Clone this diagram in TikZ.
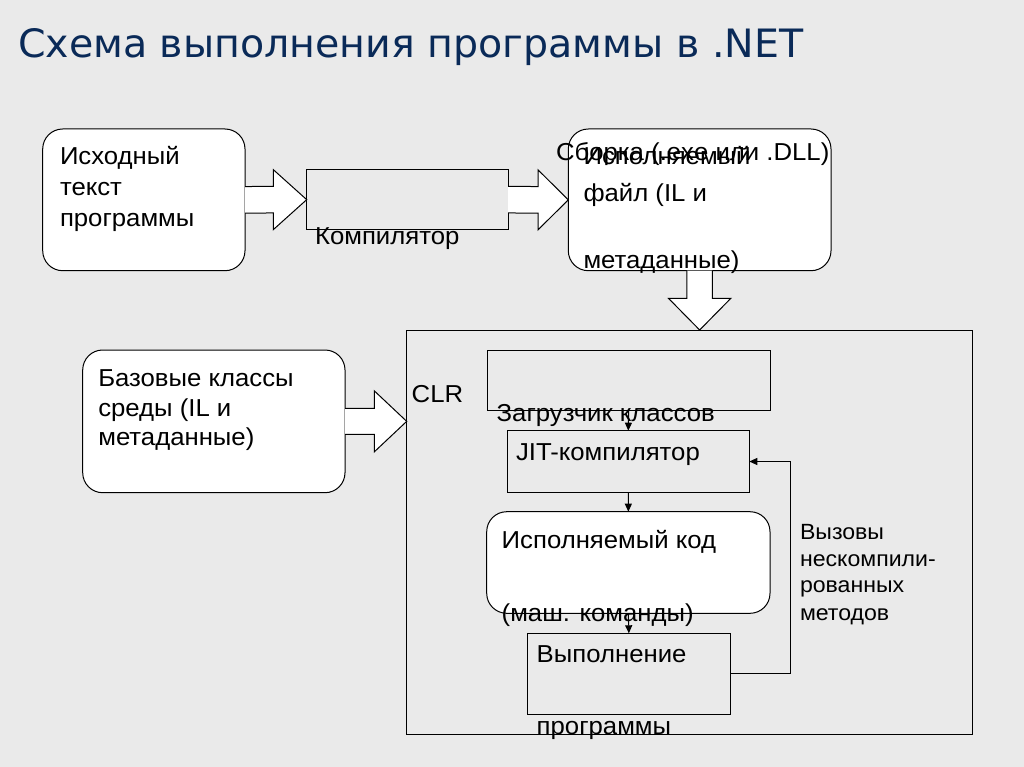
\documentclass[tikz,border=0pt]{standalone}
\usepackage{graphicx}
\usepackage{fontspec}
\setmainfont{Liberation Sans}[FakeStretch=1.05]
\newfontfamily\titlefont{DejaVu Sans}
\usetikzlibrary{arrows.meta,calc}
\definecolor{bg}{RGB}{234,234,234}
\definecolor{titleblue}{RGB}{10,42,88}
\begin{document}
\begin{tikzpicture}[x=1pt,y=-1pt,
  box/.style={draw=black, line width=1pt, inner sep=0pt, outer sep=0pt},
  rbox/.style={box, fill=white, rounded corners=20pt},
  txt/.style={anchor=base west, inner sep=0pt, outer sep=0pt, font=\fontsize{24.5}{28}\selectfont, text=black},
  smalltxt/.style={txt, font=\fontsize{22}{25}\selectfont},
  barrow/.style={fill=white, draw=black, line width=1pt, line join=miter},
  conn/.style={draw=black, line width=1pt, -{Triangle[length=8pt,width=7pt]}}
]
\path[fill=bg] (0,0) rectangle (1024,767);
\useasboundingbox (0,0) rectangle (1024,767);

% title
\node[anchor=base west, inner sep=0pt, text=titleblue] (title) at (18,57.5)
  {\resizebox{785pt}{29pt}{\titlefont\fontsize{40}{48}\selectfont Схема выполнения программы в .NET}};

% CLR frame
\node[box, minimum width=565.6pt, minimum height=404pt] (clr) at (689.5,532) {};

% boxes
\node[rbox, minimum width=202.3pt, minimum height=141.7pt] (src) at (143.85,199.85) {};
\node[box, minimum width=201.3pt, minimum height=60.7pt] (comp) at (407.35,199.65) {};
\node[rbox, minimum width=262.7pt, minimum height=141.7pt] (asm) at (699.65,199.85) {};
\node[rbox, minimum width=262.3pt, minimum height=142.7pt] (base) at (213.85,421.35) {};
\node[box, minimum width=282.7pt, minimum height=60.7pt] (loader) at (628.65,380.35) {};
\node[box, minimum width=242pt, minimum height=61.6pt] (jit) at (628.3,461.5) {};
\node[rbox, minimum width=283.3pt, minimum height=101.6pt] (exec) at (628.35,562.5) {};
\node[box, minimum width=202.3pt, minimum height=80.7pt] (run) at (628.85,673.65) {};

% block arrows
\filldraw[barrow] ($(src.east)+(0,-13.3)$) -- ($(comp.west)+(-33.4,-13.3)$) -- ($(comp.west)+(-33.4,-30)$)
  -- (comp.west) -- ($(comp.west)+(-33.4,30)$) -- ($(comp.west)+(-33.4,13.3)$) -- ($(src.east)+(0,13.3)$);
\filldraw[barrow] ($(comp.east)+(0,-13.3)$) -- ($(asm.west)+(-30.3,-13.3)$) -- ($(asm.west)+(-30.3,-30)$)
  -- (asm.west) -- ($(asm.west)+(-30.3,30)$) -- ($(asm.west)+(-30.3,13.3)$) -- ($(comp.east)+(0,13.3)$);
\coordinate (dtip) at (asm.south |- clr.north);
\filldraw[barrow] ($(asm.south)+(-12.8,0)$) -- ($(dtip)+(-12.8,-31.7)$) -- ($(dtip)+(-31.2,-31.7)$)
  -- (dtip) -- ($(dtip)+(31.2,-31.7)$) -- ($(dtip)+(12.8,-31.7)$) -- ($(asm.south)+(12.8,0)$);
\coordinate (ltip) at (clr.west |- base.east);
\filldraw[barrow] ($(base.east)+(0,-13)$) -- ($(ltip)+(-32.4,-13)$) -- ($(ltip)+(-32.4,-30.5)$)
  -- (ltip) -- ($(ltip)+(-32.4,30.5)$) -- ($(ltip)+(-32.4,13)$) -- ($(base.east)+(0,13)$);

% texts
\node[txt] (t1) at (60,164.3) {Исходный};
\node[txt] (t2) at (60,195.3) {текст};
\node[txt] (t3) at (60,226) {программы};
\node[txt] (t4) at (315,244) {Компилятор};
\node[txt] (t5) at (556,161) {Сборка (.exe или .DLL)};
\node[txt] (t6) at (583.5,164.5) {Исполняемый};
\node[txt] (t7) at (583.5,202) {файл (IL и};
\node[txt] (t8) at (583.5,268) {метаданные)};
\node[txt] (t9) at (98.3,386) {Базовые классы};
\node[txt] (t10) at (98.3,416) {среды (IL и};
\node[txt] (t11) at (98.3,445) {метаданные)};
\node[txt] (t12) at (411.7,402.7) {CLR};
\node[txt] (t13) at (496.7,421.7) {Загрузчик классов};
\node[txt] (t14) at (516,460.7) {JIT-компилятор};
\node[txt] (t15) at (501.7,548.3) {Исполняемый код};
\node[txt] (t16) at (501.7,621) {(маш. команды)};
\node[txt] (t17) at (536.7,662.7) {Выполнение};
\node[txt] (t18) at (536.7,734) {программы};
\node[smalltxt] (t19) at (800,539) {Вызовы};
\node[smalltxt] (t20) at (800,566) {нескомпили-};
\node[smalltxt] (t21) at (800,592.7) {рованных};
\node[smalltxt] (t22) at (800,620) {методов};

% connectors
\draw[conn] (loader.south) -- (jit.north);
\draw[conn] (jit.south) -- (exec.north);
\draw[conn] (exec.south) -- (run.north);
\coordinate (fb) at (790.7,673.65);
\draw[conn] (run.east) -- (fb) |- (jit.east);
\end{tikzpicture}
\end{document}
